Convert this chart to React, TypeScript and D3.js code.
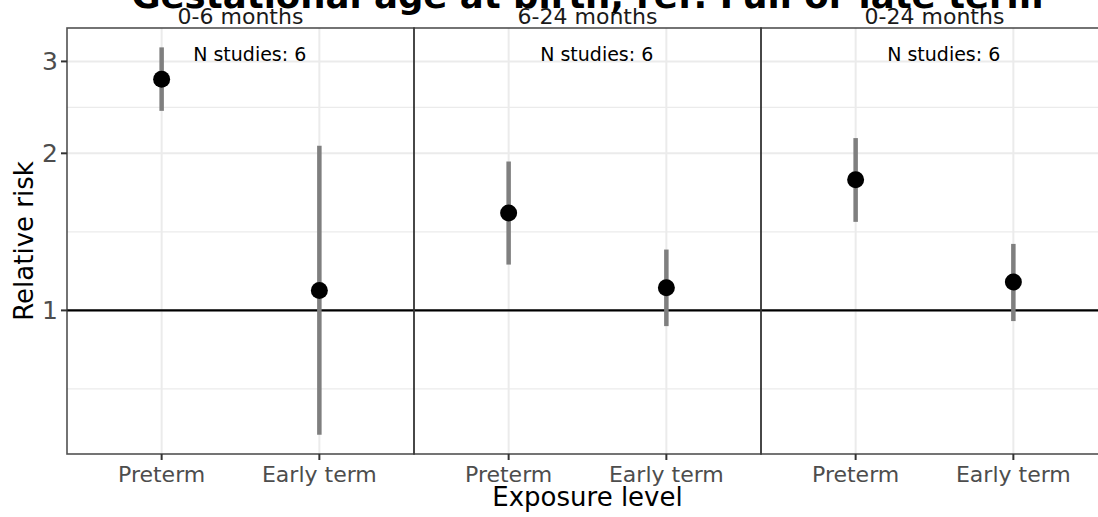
import React from "react";
import * as d3 from "d3";

const panels = ["0-6 months", "6-24 months", "0-24 months"];
const exposures = ["Preterm", "Early term"];
const panelOf = ["0-6 months", "0-6 months", "6-24 months", "6-24 months", "0-24 months", "0-24 months"];
const exposureOf = ["Preterm", "Early term", "Preterm", "Early term", "Preterm", "Early term"];
const estimates = [2.773, 1.092, 1.537, 1.105, 1.78, 1.133];
const lowers = [2.412, 0.578, 1.224, 0.933, 1.478, 0.954];
const uppers = [3.192, 2.067, 1.929, 1.308, 2.139, 1.341];
const nStudies = [6, 6, 6];
const yTicks = [1, 2, 3];
const yMinorTicks = [0.7071, 1.4142, 2.4495];

const W = 1098;
const H = 517;
const FONT = "DejaVu Sans, sans-serif";

export default function App() {
  const left = 67;
  const right = 1108;
  const top = 28;
  const bottom = 454;

  const lo = Math.log(d3.min(lowers) as number);
  const hi = Math.log(d3.max(uppers) as number);
  const pad = (hi - lo) * 0.05;
  const y = d3.scaleLog().domain([Math.exp(lo - pad), Math.exp(hi + pad)]).range([bottom, top]);

  const xPanel = d3.scaleBand<string>().domain(panels).range([left, right]).padding(0);
  const xIn = d3.scalePoint<string>().domain(exposures).range([0, xPanel.bandwidth()]).padding(0.6);
  const step = xIn.step();

  const gridCol = "#ebebeb";
  const borderCol = "#333333";

  return (
    <svg width={W} height={H} style={{ position: "absolute", left: 0, top: 0 }} fontFamily={FONT}>
      <rect x={0} y={0} width={W} height={H} fill="#ffffff" />
      {panels.map((p, pi) => {
        const px = xPanel(p) as number;
        const pw = xPanel.bandwidth();
        return (
          <g key={p}>
            {yMinorTicks.map((t) => (
              <line key={"mn" + t} x1={px} x2={px + pw} y1={y(t)} y2={y(t)} stroke={gridCol} strokeWidth={1.2} />
            ))}
            {yTicks.map((t) => (
              <line key={"mj" + t} x1={px} x2={px + pw} y1={y(t)} y2={y(t)} stroke={gridCol} strokeWidth={2} />
            ))}
            {exposures.map((e) => (
              <line key={"vx" + e} x1={px + (xIn(e) as number)} x2={px + (xIn(e) as number)} y1={top} y2={bottom} stroke={gridCol} strokeWidth={2} />
            ))}
            <line x1={px} x2={px + pw} y1={y(1)} y2={y(1)} stroke="#000" strokeWidth={2.2} />
            <text x={px + pw / 2} y={24} textAnchor="middle" fontSize={22} fill="#1a1a1a">{p}</text>
            <text x={px + (xIn(exposures[0]) as number) + step * 0.2} y={y(3)} textAnchor="start" fontSize={19} fill="#000">
              {"N studies: " + nStudies[pi]}
            </text>
            {exposures.map((e) => (
              <g key={"tk" + e}>
                <line x1={px + (xIn(e) as number)} x2={px + (xIn(e) as number)} y1={bottom} y2={bottom + 6} stroke={borderCol} strokeWidth={2} />
                <text x={px + (xIn(e) as number)} y={482} textAnchor="middle" fontSize={22} fill="#4d4d4d">{e}</text>
              </g>
            ))}
          </g>
        );
      })}
      {estimates.map((v, i) => {
        const cx = (xPanel(panelOf[i]) as number) + (xIn(exposureOf[i]) as number);
        return (
          <g key={"pt" + i}>
            <line x1={cx} x2={cx} y1={y(lowers[i])} y2={y(uppers[i])} stroke="#7f7f7f" strokeWidth={4.5} />
            <circle cx={cx} cy={y(v)} r={8.5} fill="#000" />
          </g>
        );
      })}
      {panels.map((p) => (
        <rect key={"b" + p} x={xPanel(p) as number} y={top} width={xPanel.bandwidth()} height={bottom - top} fill="none" stroke={borderCol} strokeWidth={1.6} strokeOpacity={0.85} />
      ))}
      {yTicks.map((t) => (
        <g key={"yt" + t}>
          <line x1={left - 6} x2={left} y1={y(t)} y2={y(t)} stroke={borderCol} strokeWidth={2} />
          <text x={left - 9} y={y(t)} dy="0.36em" textAnchor="end" fontSize={25} fill="#4d4d4d">{t}</text>
        </g>
      ))}
      <text transform={`translate(33,${(top + bottom) / 2}) rotate(-90)`} textAnchor="middle" fontSize={26} fill="#000">Relative risk</text>
      <text x={(left + right) / 2} y={506} textAnchor="middle" fontSize={26} fill="#000">Exposure level</text>
      <text x={(left + right) / 2} y={8} textAnchor="middle" fontSize={35.5} fontWeight="bold" fill="#000">
        Gestational age at birth, ref: Full or late term
      </text>
    </svg>
  );
}
